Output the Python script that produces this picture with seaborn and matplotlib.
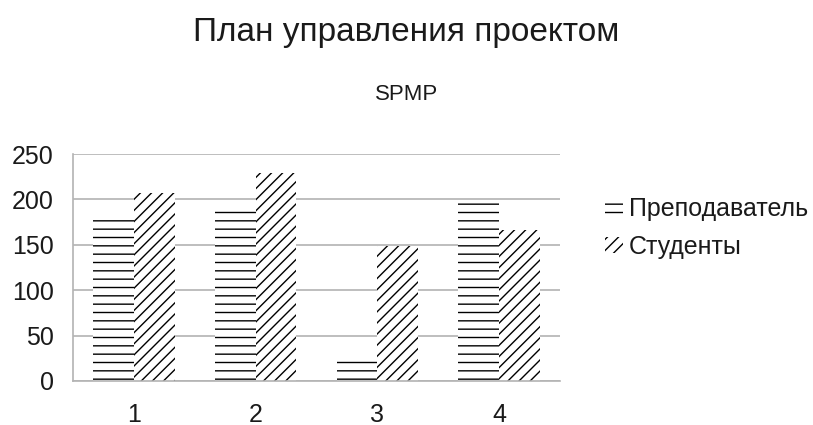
import matplotlib
matplotlib.use("Agg")
import matplotlib.pyplot as plt
import seaborn as sns
import pandas as pd
from matplotlib.patches import Patch

categories = ["1", "2", "3", "4"]
series_names = ["Преподаватель", "Студенты"]
teacher = [184, 193, 29, 196]
students = [207, 229, 149, 166]
hatches = ["--", "///"]
title = "План управления проектом"
subtitle = "SPMP"
yticks = [0, 50, 100, 150, 200, 250]

df = pd.DataFrame({
    "cat": categories * 2,
    "series": [series_names[0]] * 4 + [series_names[1]] * 4,
    "value": teacher + students,
})

sns.set_style("white")
plt.rcParams["font.family"] = ["Liberation Sans", "DejaVu Sans"]
plt.rcParams["hatch.linewidth"] = 1.0
plt.rcParams["hatch.color"] = "black"

fig = plt.figure(figsize=(8.13, 4.25), dpi=100)
ax = fig.add_axes([73 / 813, 1 - 381 / 425, (560 - 73) / 813, (381 - 154) / 425])

sns.barplot(data=df, x="cat", y="value", hue="series", ax=ax,
            palette=["white", "white"], width=0.67, gap=0, legend=False,
            edgecolor="black", linewidth=0)

for container, h in zip(ax.containers, hatches):
    for p in container:
        p.set_hatch(h)
        p.set_edgecolor("black")
        p.set_linewidth(0)

ax.set_xlim(-0.5, 3.5)
ax.set_ylim(0, 250)
ax.set_yticks(yticks)
ax.set_yticklabels([str(v) for v in yticks], fontsize=18, color="#1a1a1a")
ax.set_xticks(range(4))
ax.set_xticklabels(categories, fontsize=18, color="#1a1a1a")
ax.set_xticks([-0.5, 0.5, 1.5, 2.5, 3.5], minor=True)
ax.tick_params(axis="x", which="major", length=0, pad=16)
ax.tick_params(axis="x", which="minor", length=10, color="#b3b3b3", width=1.2)
ax.tick_params(axis="y", which="major", length=10, color="#b3b3b3", width=1.2, pad=4)
ax.yaxis.grid(True, color="#b3b3b3", linewidth=1.2)
ax.set_axisbelow(True)
for s in ["top", "right"]:
    ax.spines[s].set_visible(False)
for s in ["left", "bottom"]:
    ax.spines[s].set_color("#b3b3b3")
    ax.spines[s].set_linewidth(1.2)
ax.set_xlabel("")
ax.set_ylabel("")

handles = [Patch(facecolor="white", edgecolor="black", linewidth=0, hatch=h)
           for h in hatches]
fig.legend(handles, series_names, loc="center left",
           bbox_to_anchor=(600 / 813, 1 - 228 / 425), frameon=False,
           fontsize=18, handlelength=0.7, handleheight=0.6, handletextpad=0.25,
           labelspacing=0.55, labelcolor="#1a1a1a", borderaxespad=0, borderpad=0.2)

fig.text(0.5, 1 - 32 / 425, title, ha="center", va="center", fontsize=24, color="#1a1a1a")
fig.text(0.5, 1 - 95 / 425, subtitle, ha="center", va="center", fontsize=16, color="#1a1a1a")

fig.savefig("out.png", dpi=100)
